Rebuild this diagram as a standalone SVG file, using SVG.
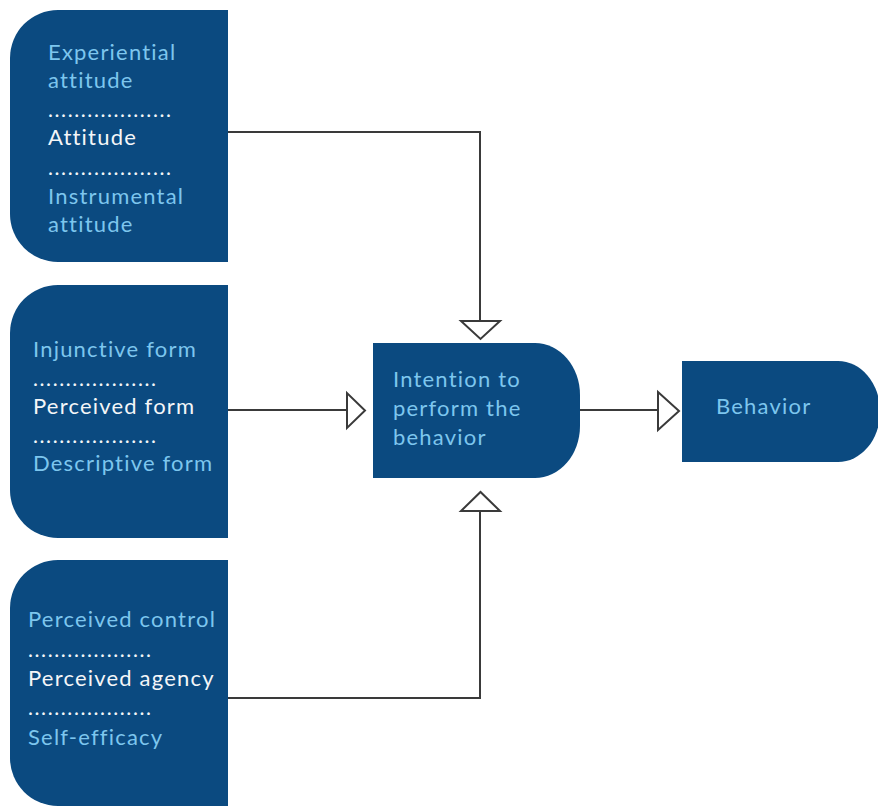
<svg xmlns="http://www.w3.org/2000/svg" width="878" height="807" viewBox="0 0 878 807">
  <style>
    .node { fill: #0b4a80; }
    .lbl { font-family: Lato, "Open Sans", "Liberation Sans", sans-serif; font-size: 22px; letter-spacing: 1.2px; fill: #7dc6ee; }
    .main { fill: #f4f6f8; }
    .dots { font-family: Lato, "Liberation Sans", sans-serif; font-size: 21px; fill: #f4f6f8; letter-spacing: 1.6px; }
    .wire { fill: none; stroke: #3a3a3a; stroke-width: 2; }
    .head { fill: #ffffff; stroke: #3a3a3a; stroke-width: 2; stroke-linejoin: miter; }
  </style>
  <rect width="878" height="807" fill="#ffffff"/>

  <!-- Attitude factor -->
  <g id="attitude">
    <path class="node" d="M58,10 H228 V262 H58 A48,48 0 0 1 10,214 V58 A48,48 0 0 1 58,10 Z"/>
    <text class="lbl" x="48" y="60">Experiential</text>
    <text class="lbl" x="48" y="88">attitude</text>
    <text class="dots" x="48" y="117">...................</text>
    <text class="lbl main" x="48" y="145">Attitude</text>
    <text class="dots" x="48" y="175">...................</text>
    <text class="lbl" x="48" y="204">Instrumental</text>
    <text class="lbl" x="48" y="232">attitude</text>
  </g>

  <!-- Perceived norm factor -->
  <g id="perceived-form">
    <path class="node" d="M58,285 H228 V538 H58 A48,48 0 0 1 10,490 V333 A48,48 0 0 1 58,285 Z"/>
    <text class="lbl" x="33" y="357">Injunctive form</text>
    <text class="dots" x="33" y="386">...................</text>
    <text class="lbl main" x="33" y="414">Perceived form</text>
    <text class="dots" x="33" y="443">...................</text>
    <text class="lbl" x="33" y="471">Descriptive form</text>
  </g>

  <!-- Agency factor -->
  <g id="perceived-agency">
    <path class="node" d="M58,560 H228 V806 H58 A48,48 0 0 1 10,758 V608 A48,48 0 0 1 58,560 Z"/>
    <text class="lbl" x="28" y="627">Perceived control</text>
    <text class="dots" x="28" y="657">...................</text>
    <text class="lbl main" x="28" y="686">Perceived agency</text>
    <text class="dots" x="28" y="715">...................</text>
    <text class="lbl" x="28" y="745">Self-efficacy</text>
  </g>

  <!-- Intention -->
  <g id="intention">
    <path class="node" d="M373,343 H535 A45,52 0 0 1 580,395 V426 A45,52 0 0 1 535,478 H373 Z"/>
    <text class="lbl" x="393" y="387">Intention to</text>
    <text class="lbl" x="393" y="416">perform the</text>
    <text class="lbl" x="393" y="445">behavior</text>
  </g>

  <!-- Behavior -->
  <g id="behavior">
    <path class="node" d="M682,361 H838 A42,50 0 0 1 880,411 V412 A42,50 0 0 1 838,462 H682 Z"/>
    <text class="lbl" x="716" y="414">Behavior</text>
  </g>

  <!-- Connectors -->
  <g id="connectors">
    <path class="wire" d="M228,132 H480 V321"/>
    <polygon class="head" points="461,321 500,321 480.5,339"/>
    <path class="wire" d="M228,410 H347"/>
    <polygon class="head" points="347,393 347,428 365,410.5"/>
    <path class="wire" d="M228,698 H480 V511"/>
    <polygon class="head" points="461,511 500,511 480.5,492"/>
    <path class="wire" d="M580,410 H658"/>
    <polygon class="head" points="658,392 658,430 679,411"/>
  </g>
</svg>
